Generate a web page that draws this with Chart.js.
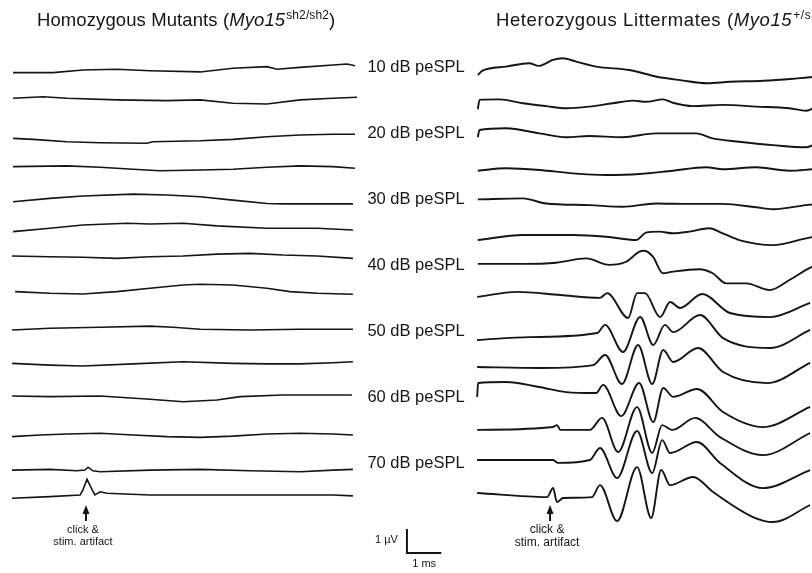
<!DOCTYPE html>
<html><head><meta charset="utf-8">
<script src="https://cdn.jsdelivr.net/npm/chart.js@4/dist/chart.umd.min.js"></script>
<style>html,body{margin:0;padding:0;background:#fff;overflow:hidden}canvas{display:block}</style>
</head><body>
<canvas id="c" width="812" height="573"></canvas>
<script>
// ---- data (time in ms after trace start, amplitude in µV) ----
const levels = [10,15,20,25,30,35,40,45,50,55,60,65,70,75]; // dB peSPL, top to bottom
const labelLevels = [10,20,30,40,50,60,70];
const leftTitle = ['Homozygous Mutants (', 'Myo15', 'sh2/sh2', ')'];
const rightTitle = ['Heterozygous Littermates (', 'Myo15', '+/sh2', ')'];
const artifactLabel = ['click &', 'stim. artifact'];
const scaleBarLabels = ['1 µV', '1 ms'];

const mutantTraces = [
 [[0.03,-0.11],[1.19,-0.11],[2.06,0.0],[3.05,0.03],[4.01,-0.03],[5.47,-0.08],[6.42,0.07],[7.41,0.14],[7.70,0.03],[8.37,0.11],[9.33,0.21],[9.74,0.25],[9.97,0.18]],
 [[0.03,0.20],[0.90,0.26],[1.60,0.20],[3.05,0.13],[4.51,0.10],[5.47,0.13],[6.42,-0.01],[7.41,-0.04],[8.37,0.13],[9.33,0.20],[10.03,0.24]],
 [[0.03,-0.10],[0.61,-0.14],[1.60,-0.24],[2.56,-0.28],[3.92,-0.30],[4.10,-0.24],[5.47,-0.20],[6.42,-0.14],[7.41,-0.03],[8.37,0.04],[9.33,0.07],[9.97,0.07]],
 [[0.03,0.10],[1.60,0.13],[2.56,0.07],[3.52,-0.01],[4.30,-0.07],[5.47,-0.04],[6.42,-0.01],[7.41,0.07],[8.37,0.13],[9.33,0.10],[9.97,0.03]],
 [[0.03,0.01],[1.10,0.15],[2.06,0.25],[3.52,0.33],[4.51,0.29],[5.47,0.22],[6.42,0.08],[7.41,-0.06],[7.88,-0.08],[8.87,-0.08],[9.91,-0.08]],
 [[0.03,0.14],[1.10,0.28],[2.06,0.42],[3.34,0.49],[4.01,0.46],[4.97,0.49],[5.96,0.38],[7.41,0.28],[8.87,0.28],[9.91,0.21]],
 [[0.0,0.50],[1.10,0.47],[2.06,0.45],[3.05,0.40],[4.01,0.47],[4.97,0.50],[5.96,0.58],[6.92,0.61],[7.88,0.54],[8.87,0.50],[9.91,0.40]],
 [[0.09,0.39],[1.10,0.32],[2.06,0.29],[3.05,0.39],[4.01,0.53],[4.97,0.67],[5.47,0.70],[6.42,0.67],[7.41,0.53],[8.08,0.39],[8.87,0.32],[9.91,0.28]],
 [[0.0,0.17],[1.10,0.24],[2.56,0.28],[4.01,0.33],[4.68,0.28],[5.47,0.20],[6.92,0.17],[8.37,0.20],[9.33,0.20],[9.91,0.20]],
 [[0.0,0.15],[1.10,0.08],[2.06,0.04],[3.52,0.13],[4.97,0.22],[6.42,0.15],[7.41,0.13],[8.37,0.13],[9.33,0.18],[9.91,0.22]],
 [[0.0,0.17],[1.10,0.14],[2.56,0.17],[4.01,0.03],[4.97,-0.07],[5.96,0.0],[6.63,0.14],[7.88,0.21],[8.87,0.21],[9.88,0.21]],
 [[0.0,-0.15],[0.81,-0.08],[1.60,-0.04],[2.56,-0.01],[3.52,-0.08],[4.51,-0.15],[5.47,-0.18],[6.42,-0.13],[7.41,-0.04],[8.37,-0.01],[9.33,-0.04],[9.91,-0.08]],
 [[0.0,-0.17],[1.10,-0.14],[1.89,-0.20],[2.12,-0.17],[2.21,-0.05],[2.35,-0.20],[2.56,-0.24],[4.01,-0.17],[5.47,-0.14],[6.92,-0.20],[8.37,-0.24],[9.33,-0.17],[9.91,-0.14]],
 [[0.0,0.03],[1.10,0.10],[1.98,0.17],[2.06,0.38],[2.18,0.82],[2.33,0.38],[2.41,0.17],[2.56,0.30],[2.76,0.24],[4.01,0.17],[5.47,0.17],[7.41,0.17],[9.33,0.17],[9.91,0.13]]
];

const hetTraces = [
 [[0.05,-0.21],[0.19,-0.03],[0.87,0.14],[1.54,0.28],[1.83,0.17],[1.93,0.21],[2.23,0.42],[2.52,0.49],[2.91,0.35],[3.49,0.14],[4.45,0.0],[5.26,-0.28],[5.93,-0.42],[6.72,-0.55],[7.38,-0.49],[8.36,-0.45],[9.33,-0.35],[9.8,-0.29]],
 [[0.05,-0.26],[0.10,0.13],[0.68,0.15],[1.36,-0.01],[2.03,-0.13],[2.62,-0.22],[3.29,-0.15],[3.97,-0.01],[4.56,0.10],[4.94,0.05],[5.43,0.15],[5.72,0.01],[6.30,-0.13],[7.17,-0.08],[8.14,-0.15],[9.11,-0.22],[9.59,-0.32],[9.8,-0.22]],
 [[0.05,-0.05],[0.10,0.25],[0.87,0.32],[1.84,0.11],[2.62,-0.05],[3.29,0.0],[4.26,-0.05],[5.23,0.11],[6.40,0.11],[6.88,-0.10],[7.65,-0.24],[8.63,-0.38],[9.59,-0.47],[9.8,-0.38]],
 [[0.05,-0.07],[0.87,0.03],[1.84,-0.04],[2.81,-0.18],[3.78,-0.25],[4.75,-0.21],[5.72,-0.07],[6.69,0.07],[7.17,-0.01],[8.14,0.07],[9.11,-0.07],[9.8,-0.01]],
 [[0.05,0.11],[1.36,0.15],[2.03,-0.06],[3.29,-0.13],[4.26,-0.20],[5.23,-0.06],[6.20,-0.08],[7.17,-0.08],[8.14,-0.22],[8.63,-0.30],[9.59,-0.13],[9.8,-0.10]],
 [[0.05,-0.21],[1.36,0.0],[2.81,0.0],[3.78,-0.07],[4.65,-0.21],[4.94,0.10],[5.33,0.14],[5.72,0.07],[6.20,0.14],[6.78,0.28],[7.17,0.07],[7.65,-0.21],[8.63,-0.42],[9.59,-0.14],[9.8,-0.08]],
 [[0.05,0.17],[1.36,0.17],[2.33,0.22],[3.20,0.40],[3.87,0.13],[4.36,0.26],[4.75,0.68],[4.89,0.72],[5.14,0.47],[5.43,-0.22],[5.72,-0.15],[6.49,-0.05],[6.88,-0.22],[7.27,-0.64],[7.85,-0.64],[8.53,-0.92],[9.11,-0.50],[9.59,-0.08],[9.8,0.08]],
 [[0.03,0.17],[1.19,0.38],[2.45,0.25],[3.60,0.13],[3.81,0.33],[4.42,-0.71],[4.68,0.33],[4.91,0.33],[5.35,-0.67],[5.64,-0.04],[5.93,-0.29],[6.57,0.29],[7.38,-0.50],[8.55,-0.67],[9.71,-0.08]],
 [[0.03,-0.25],[1.57,-0.13],[3.52,0.04],[3.75,0.38],[4.27,-0.75],[4.77,0.71],[5.15,-0.46],[5.49,0.38],[5.73,0.08],[6.51,0.79],[7.18,-0.17],[8.55,-0.58],[9.71,0.17]],
 [[0.03,0.0],[1.86,-0.04],[3.40,0.08],[3.75,0.5],[4.24,-0.71],[4.71,0.92],[5.12,-0.71],[5.44,0.71],[5.73,0.21],[6.45,0.79],[7.18,-0.21],[8.46,-0.67],[9.71,0.17]],
 [[0.03,0.13],[0.06,0.71],[0.87,0.75],[1.83,0.54],[2.62,0.33],[3.49,0.29],[3.69,0.63],[4.22,-0.67],[4.74,0.71],[5.15,-0.92],[5.44,0.5],[5.73,0.13],[6.42,0.46],[7.18,-0.5],[8.34,-1.13],[9.71,-0.29]],
 [[0.03,0.13],[2.24,0.25],[2.35,0.33],[2.45,0.13],[3.31,0.13],[3.66,0.63],[4.13,-0.79],[4.68,1.08],[5.12,-0.83],[5.41,0.33],[5.70,0.13],[6.37,0.63],[7.09,-0.17],[8.34,-0.92],[9.71,0.0]],
 [[0.03,0.25],[2.24,0.25],[2.38,0.13],[3.31,0.25],[3.60,0.75],[4.10,-0.5],[4.68,1.46],[5.12,-0.29],[5.41,1.08],[5.64,0.54],[6.42,1.0],[7.09,0.13],[8.34,-0.92],[9.71,-0.17]],
 [[0.03,0.25],[2.06,0.08],[2.24,0.46],[2.35,-0.13],[2.53,0.04],[3.37,0.08],[3.60,0.58],[4.10,-0.92],[4.68,1.33],[5.09,-0.79],[5.38,1.21],[5.64,0.58],[6.31,0.92],[6.89,0.29],[8.05,-0.75],[8.63,-0.96],[9.71,-0.25]]
];

const artifactTime = 2.15; // ms, click onset marked by arrows

// ---- layout (not data) ----
const SPACING = 1.375;   // µV between stacked traces
const RIGHT_T0 = 13.49;  // ms shift of the right panel on the shared x scale
const X_MIN = -0.35, X_MAX = 23.255;
const Y_MAX = 2.9167, Y_MIN = -20.958;
const LABEL_T = 10.33;
const BAR_T = 11.48, BAR_V = -20.125;
const FONT = '"Liberation Sans", Arial, Helvetica, sans-serif';
const INK = '#151515';

const datasets = [];
mutantTraces.forEach((tr, k) => datasets.push({
  label: 'mut ' + levels[k], data: tr.map(([t, v]) => ({x: t, y: v - k * SPACING})),
  borderColor: INK, borderWidth: 1.6, pointRadius: 0, fill: false, tension: 0, clip: false
}));
hetTraces.forEach((tr, k) => datasets.push({
  label: 'het ' + levels[k], data: tr.map(([t, v]) => ({x: t + RIGHT_T0, y: v - k * SPACING})),
  borderColor: INK, borderWidth: 1.9, pointRadius: 0, fill: false, cubicInterpolationMode: 'monotone', clip: false
}));

function drawTitle(ctx, x, y, parts, size, spacing) {
  const styles = [
    {font: size + 'px ' + FONT, dy: 0},
    {font: 'italic ' + size + 'px ' + FONT, dy: 0},
    {font: Math.round(size * 0.64) + 'px ' + FONT, dy: -size * 0.38},
    {font: size + 'px ' + FONT, dy: 0}
  ];
  ctx.letterSpacing = spacing + 'px';
  parts.forEach((p, i) => {
    ctx.font = styles[i].font;
    ctx.fillText(p, x, y + styles[i].dy);
    x += ctx.measureText(p).width + (i === 1 ? 1 : 0);
  });
  ctx.letterSpacing = '0px';
}

function drawArrow(ctx, px, tipY, size) {
  ctx.beginPath();
  ctx.moveTo(px, tipY);
  ctx.lineTo(px - 3.5, tipY + 9);
  ctx.lineTo(px + 3.5, tipY + 9);
  ctx.closePath();
  ctx.fill();
  ctx.fillRect(px - 1, tipY + 8, 2, 8);
  ctx.font = size + 'px ' + FONT;
  ctx.textAlign = 'center';
  ctx.textBaseline = 'middle';
  ctx.fillText(artifactLabel[0], px - 3, tipY + 25);
  ctx.fillText(artifactLabel[1], px - 3, tipY + 25 + size + 1);
}

const annotations = {
  id: 'annotations',
  afterDraw(chart) {
    const {ctx, scales: {x, y}} = chart;
    ctx.save();
    ctx.fillStyle = INK;
    ctx.strokeStyle = INK;
    ctx.textBaseline = 'alphabetic';
    ctx.textAlign = 'left';
    drawTitle(ctx, 37, 26, leftTitle, 18.5, 0.1);
    drawTitle(ctx, 496, 26, rightTitle, 18.5, 0.6);

    ctx.font = '16.5px ' + FONT;
    ctx.textBaseline = 'middle';
    labelLevels.forEach(db => {
      const k = levels.indexOf(db);
      ctx.fillText(db + ' dB peSPL', x.getPixelForValue(LABEL_T), y.getPixelForValue(-k * SPACING) - 3);
    });

    drawArrow(ctx, x.getPixelForValue(artifactTime), 505, 11);
    drawArrow(ctx, x.getPixelForValue(artifactTime + RIGHT_T0), 505, 12);

    // scale bar: 1 µV vertical, 1 ms horizontal
    const bx = x.getPixelForValue(BAR_T), by = y.getPixelForValue(BAR_V);
    const bx2 = x.getPixelForValue(BAR_T + 1), by2 = y.getPixelForValue(BAR_V + 1);
    ctx.lineWidth = 2;
    ctx.beginPath();
    ctx.moveTo(bx, by2); ctx.lineTo(bx, by); ctx.lineTo(bx2, by);
    ctx.stroke();
    ctx.font = '11px ' + FONT;
    ctx.textAlign = 'right';
    ctx.fillText(scaleBarLabels[0], bx - 9, (by + by2) / 2 - 1);
    ctx.textAlign = 'center';
    ctx.fillText(scaleBarLabels[1], (bx + bx2) / 2, by + 11);
    ctx.restore();
  }
};

new Chart(document.getElementById('c'), {
  type: 'line',
  data: {datasets},
  options: {
    responsive: false, animation: false, events: [],
    layout: {padding: 0},
    plugins: {legend: {display: false}, tooltip: {enabled: false}},
    scales: {
      x: {type: 'linear', min: X_MIN, max: X_MAX, display: false},
      y: {type: 'linear', min: Y_MIN, max: Y_MAX, display: false}
    }
  },
  plugins: [annotations]
});
</script>
</body></html>
